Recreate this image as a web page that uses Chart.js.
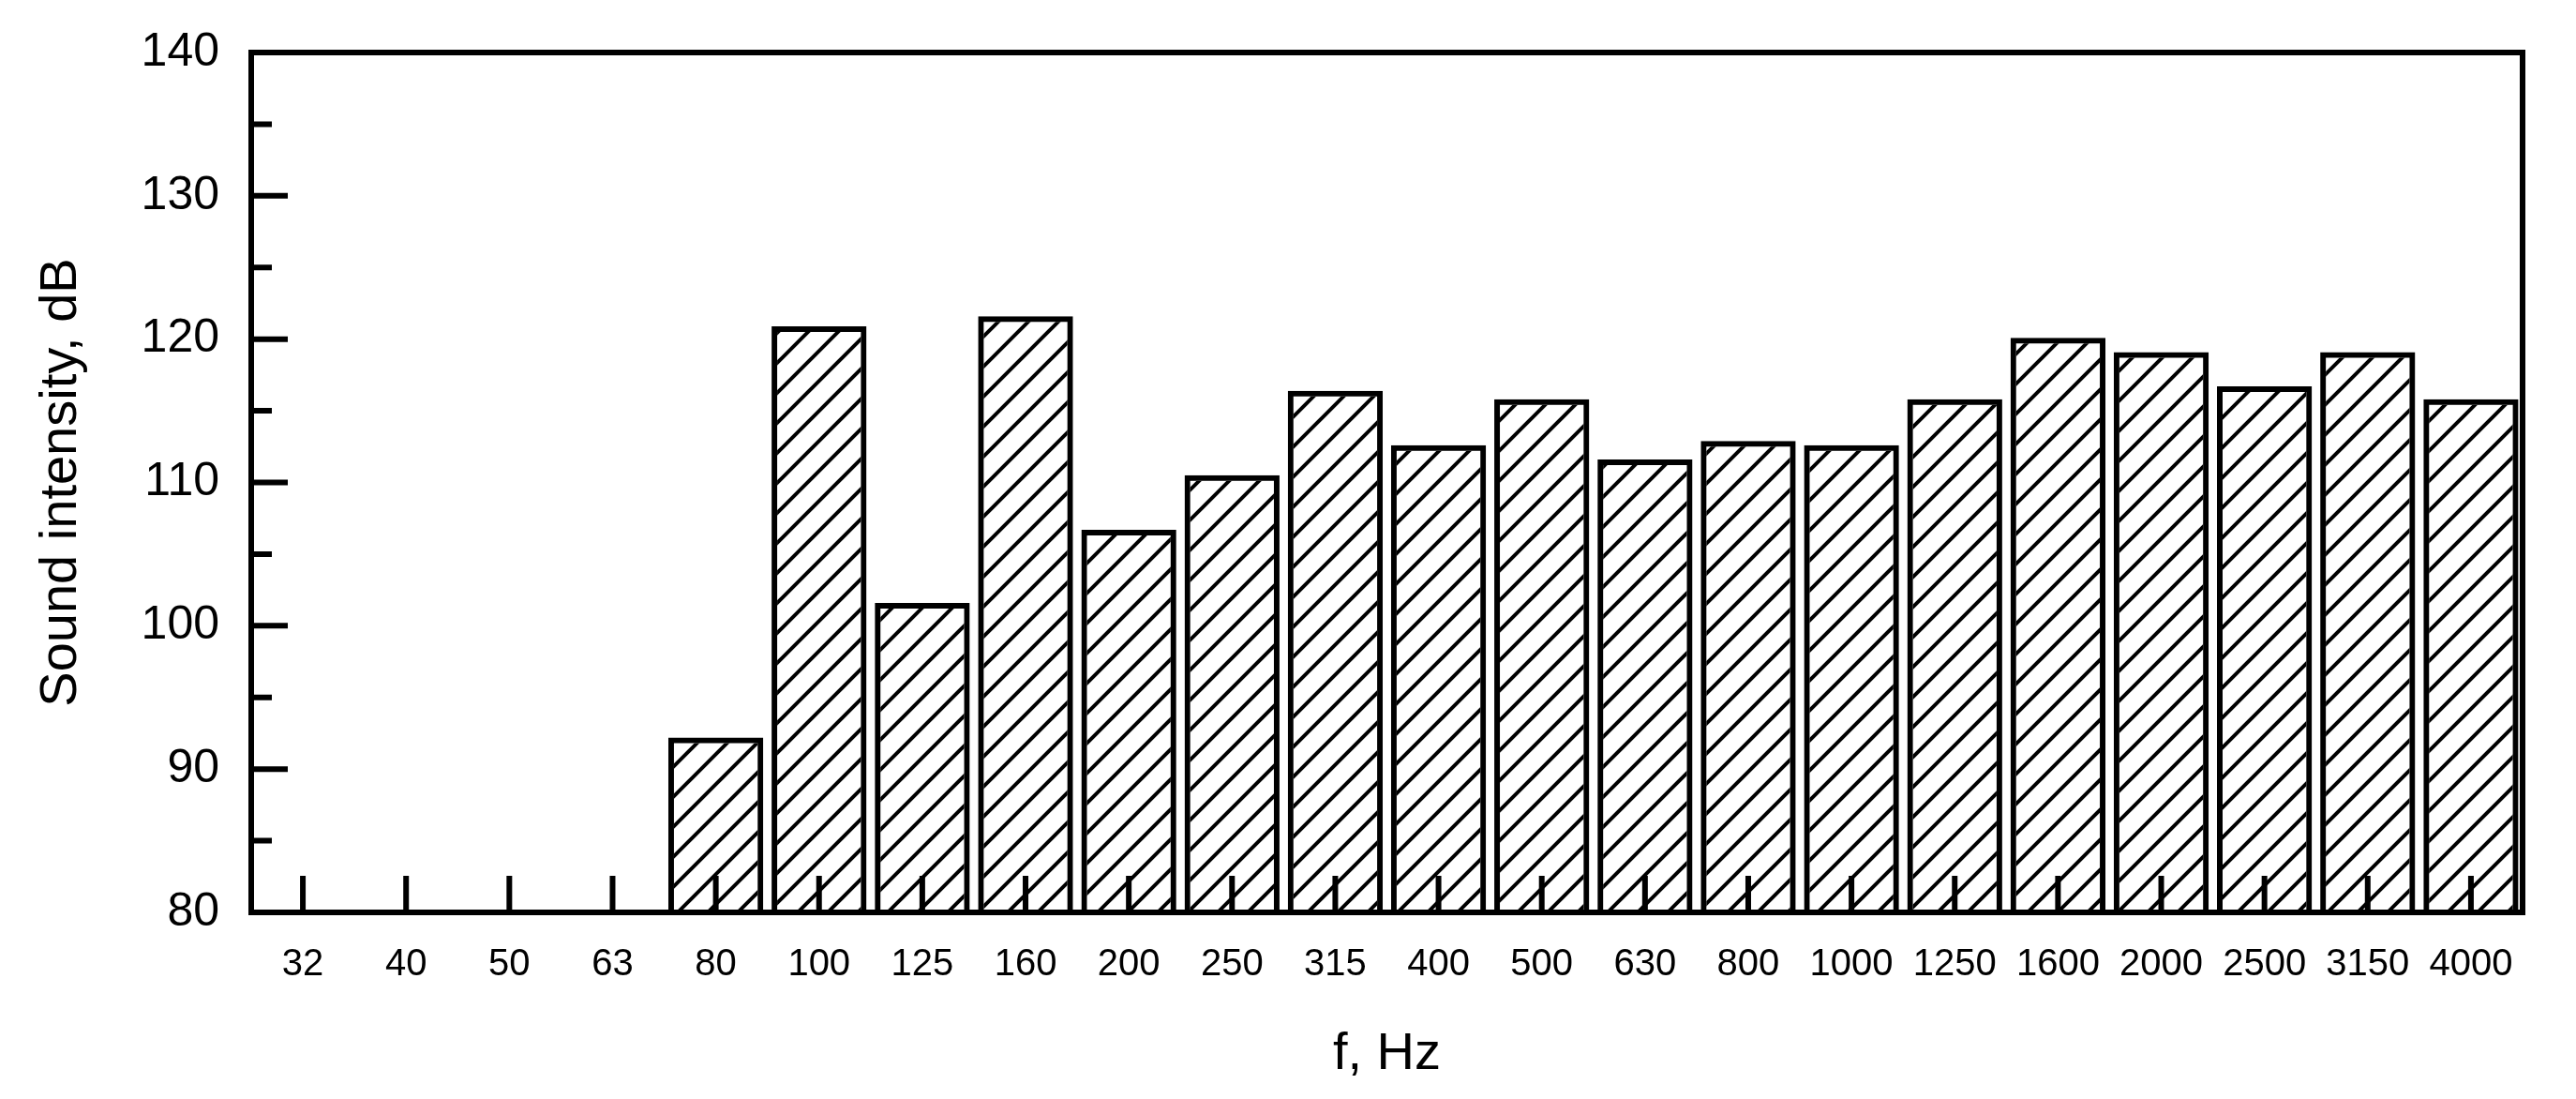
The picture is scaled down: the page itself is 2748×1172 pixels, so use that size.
<!DOCTYPE html>
<html><head><meta charset="utf-8">
<script src="https://cdn.jsdelivr.net/npm/chart.js@4/dist/chart.umd.min.js"></script>
<style>html,body{margin:0;padding:0;background:#fff}</style>
</head><body>
<canvas id="c" width="2748" height="1172"></canvas>
<script>
const categories = ["32","40","50","63","80","100","125","160","200","250","315","400","500","630","800","1000","1250","1600","2000","2500","3150","4000"];
const intensity = [null,null,null,null,92.2,120.9,101.6,121.6,106.7,110.5,116.4,112.6,115.8,111.6,112.9,112.6,115.8,120.1,119.1,116.7,119.1,115.8];
const yTicks = [80,90,100,110,120,130,140];
const yMinor = [85,95,105,115,125,135];

function hatch(){
  const s=32, c=document.createElement('canvas'); c.width=s; c.height=s;
  const g=c.getContext('2d'); g.strokeStyle='#000'; g.lineWidth=4;
  g.beginPath();
  g.moveTo(-s,s); g.lineTo(s,-s); g.moveTo(0,s); g.lineTo(s,0); g.moveTo(0,2*s); g.lineTo(2*s,0); g.stroke();
  return g.createPattern(c,'repeat');
}
const frame = {
  id:'frame',
  afterDatasetsDraw(ch){
    const {ctx, chartArea:a, scales:{x,y}} = ch;
    ctx.save(); ctx.strokeStyle='#000'; ctx.lineWidth=6; ctx.lineCap='butt';
    ctx.beginPath();
    yTicks.forEach(v=>{const p=y.getPixelForValue(v); ctx.moveTo(a.left,p); ctx.lineTo(a.left+39,p);});
    yMinor.forEach(v=>{const p=y.getPixelForValue(v); ctx.moveTo(a.left,p); ctx.lineTo(a.left+22,p);});
    categories.forEach((c,i)=>{const p=x.getPixelForValue(i); ctx.moveTo(p,a.bottom); ctx.lineTo(p,a.bottom-39);});
    ctx.stroke();
    ctx.strokeRect(a.left,a.top,a.right-a.left,a.bottom-a.top);
    ctx.restore();
  }
};
new Chart(document.getElementById('c'),{
  type:'bar',
  data:{labels:categories,datasets:[{data:intensity,backgroundColor:hatch(),borderColor:'#000',borderWidth:6,borderSkipped:false,barPercentage:0.92,categoryPercentage:1}]},
  options:{
    responsive:false, devicePixelRatio:1, animation:false,
    layout:{padding:{top:55,right:57,left:0,bottom:0}},
    plugins:{legend:{display:false},tooltip:{enabled:false}},
    scales:{
      x:{grid:{display:false},border:{display:false},
        ticks:{color:'#000',font:{family:'Liberation Sans',size:40},padding:24,maxRotation:0,autoSkip:false},
        title:{display:true,text:'f, Hz',color:'#000',font:{family:'Liberation Sans',size:56},padding:{top:0,bottom:14}},
        afterFit(s){s.height=199;}},
      y:{min:80,max:140,grid:{display:false},border:{display:false},
        afterBuildTicks(s){s.ticks=yTicks.map(v=>({value:v}));},
        ticks:{color:'#000',font:{family:'Liberation Sans',size:50},padding:26},
        title:{display:true,text:'Sound intensity, dB',color:'#000',font:{family:'Liberation Sans',size:56},padding:{top:32,bottom:0}},
        afterFit(s){s.width=268;}}
    }
  },
  plugins:[frame]
});
</script>
</body></html>
